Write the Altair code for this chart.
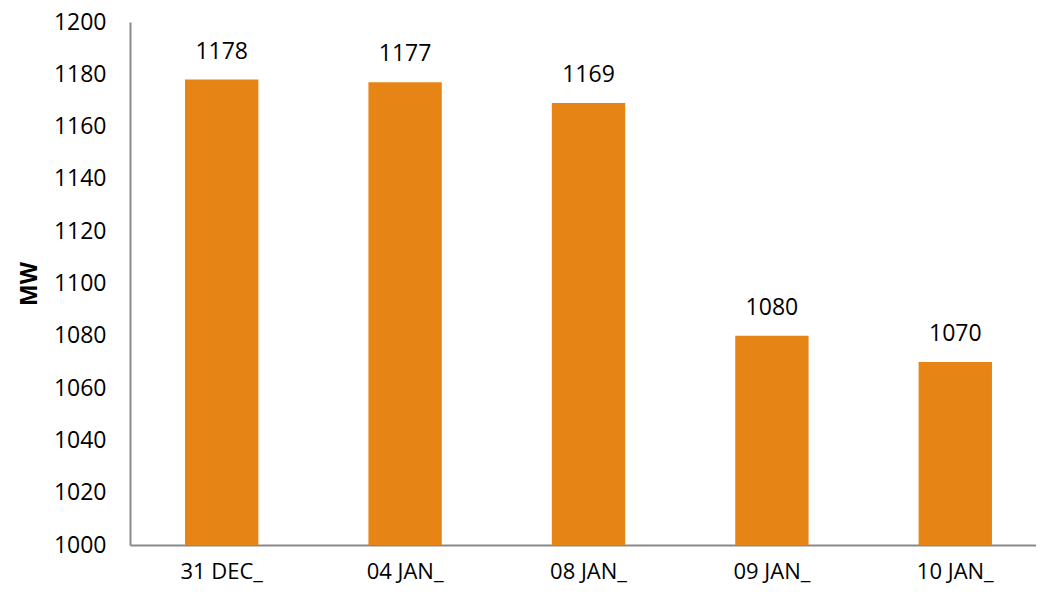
import altair as alt
import pandas as pd

categories = ["31 DEC_", "04 JAN_", "08 JAN_", "09 JAN_", "10 JAN_"]
values = [1178, 1177, 1169, 1080, 1070]

df = pd.DataFrame({"date": categories, "mw": values})

FONT = "Open Sans"
FS = 23

x = alt.X("date:N", sort=categories, title=None,
          scale=alt.Scale(paddingInner=0.6, paddingOuter=0.3),
          axis=alt.Axis(labelAngle=0, ticks=False, labelPadding=16, labelFontSize=22,
                        labelFont=FONT, labelColor="#000000", domainColor="#898989",
                        domainWidth=2))
y = alt.Y("mw:Q", title="MW",
          scale=alt.Scale(domain=[1000, 1200], nice=False, zero=False),
          axis=alt.Axis(values=list(range(1000, 1201, 20)), format="d", ticks=False,
                        grid=False, labelPadding=24, labelFontSize=FS, labelFont=FONT,
                        labelColor="#000000", domainColor="#898989", domainWidth=2,
                        titleFont=FONT, titleFontSize=FS, titleFontWeight="bold",
                        titleColor="#000000", titlePadding=12))

base = alt.Chart(df)
bars = base.mark_bar(color="#E68416", clip=True).encode(x=x, y=y)
labels = base.mark_text(baseline="bottom", dy=-16, fontSize=FS, font=FONT,
                        color="#000000").encode(x=x, y=y, text="mw:Q")

chart = (bars + labels).properties(
    width=917, height=523,
    autosize=alt.AutoSizeParams(type="none"),
    padding={"left": 122, "top": 14, "right": -11, "bottom": 41},
).configure_view(stroke=None)

chart.save("out.html", embed_options={"renderer": "svg", "actions": False})
